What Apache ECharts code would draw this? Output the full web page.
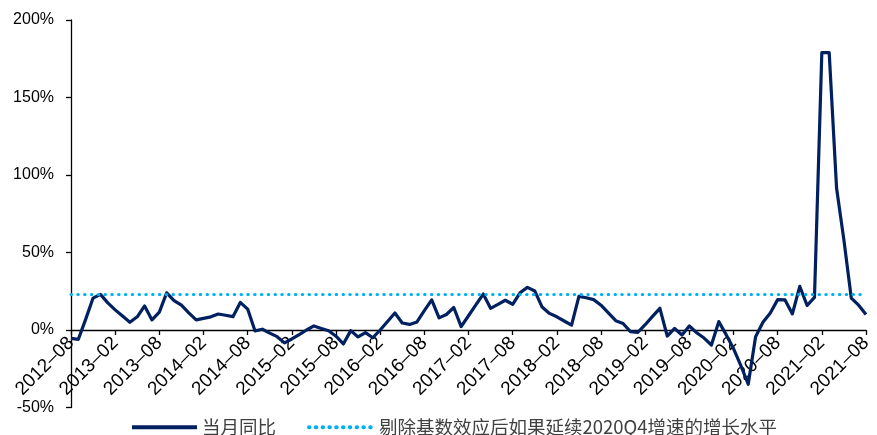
<!DOCTYPE html>
<html>
<head>
<meta charset="utf-8">
<script src="https://cdn.jsdelivr.net/npm/echarts@6/dist/echarts.min.js"></script>
<style>
  html, body { margin: 0; padding: 0; background: #fff; }
  #chart { width: 877px; height: 435px; }
</style>
</head>
<body>
<div id="chart"></div>
<script>
// Monthly categories, 2012-08 .. 2021-08
const months = [];
for (let y = 2012; y <= 2021; y++) {
  for (let m = 1; m <= 12; m++) {
    if ((y === 2012 && m < 8) || (y === 2021 && m > 8)) continue;
    months.push(y + '-' + String(m).padStart(2, '0'));
  }
}

// Year-on-year growth of the month (%)
const yoyMonthly = [
  -5.4, -6.0, 7.0, 20.6, 23.0, 17.5, 13.0, 9.0, 5.0, 8.5, 15.5, 6.5,
  11.5, 24.0, 19.0, 16.0, 11.0, 6.5, 7.5, 8.5, 10.3, 9.5, 8.6, 17.8,
  13.5, -0.6, 0.5, -2.0, -4.3, -8.3, -5.8, -3.0, 0.0, 2.6, 1.0, -0.5,
  -4.0, -9.0, -0.4, -4.5, -1.7, -5.0, 0.0, 5.5, 11.0, 4.5, 3.6, 5.2,
  12.5, 19.4, 7.8, 10.0, 14.5, 2.2, 9.2, 16.2, 23.2, 14.0, 16.5, 19.2,
  16.6, 24.0, 27.5, 25.2, 14.8, 10.7, 8.5, 5.8, 3.1, 21.7, 20.8, 19.6,
  16.0, 11.0, 6.0, 4.2, -1.0, -1.5, 3.4, 8.8, 14.0, -3.9, 1.0, -3.2,
  2.6, -1.8, -5.2, -9.7, 5.4, -3.0, -12.0, -23.0, -35.0, -4.3, 5.0, 11.0,
  19.6, 19.4, 10.4, 28.2, 15.8, 21.0, 179.0, 179.0, 91.6, 58.0, 20.6, 16.0,
  10.0
];

// Growth level if the 2020Q4 pace had continued, base effect removed (%)
const baselineLevel = 23.2;

const seriesNames = ['当月同比', '剔除基数效应后如果延续2020Q4增速的增长水平'];
const yTicks = { min: -50, max: 200, step: 50 };

const GRID = { left: 71, right: 11, top: 20, bottom: 27.5 };
const plotHeight = 435 - GRID.top - GRID.bottom;
// distance from the bottom of the plot up to the 0% line
const zeroLift = plotHeight * (0 - yTicks.min) / (yTicks.max - yTicks.min);

const chart = echarts.init(document.getElementById('chart'), null, { renderer: 'canvas' });

chart.setOption({
  animation: false,
  backgroundColor: '#ffffff',
  grid: Object.assign({ containLabel: false, outerBoundsMode: 'none' }, GRID),
  legend: {
    left: 125,
    top: 413,
    itemWidth: 65,
    itemHeight: 14,
    itemGap: 31,
    itemStyle: { opacity: 0 },
    lineStyle: { width: 4 },
    textStyle: { fontFamily: 'Noto Sans CJK SC', fontSize: 18.5, color: '#404040' },
    data: seriesNames
  },
  xAxis: {
    type: 'category',
    data: months,
    boundaryGap: false,
    position: 'bottom',
    offset: -zeroLift,
    axisLine: { onZero: false, lineStyle: { color: '#000', width: 1.3 } },
    axisTick: { show: true, interval: 5, length: 5, inside: false, lineStyle: { color: '#000', width: 1.3 } },
    axisLabel: {
      interval: 5,
      rotate: 45,
      margin: 10,
      fontFamily: 'Liberation Sans',
      fontSize: 19,
      color: '#000',
      formatter: v => v.replace('-', '–')
    },
    splitLine: { show: false }
  },
  yAxis: {
    type: 'value',
    min: yTicks.min,
    max: yTicks.max,
    interval: yTicks.step,
    axisLine: { show: true, lineStyle: { color: '#000', width: 1.3 } },
    axisTick: { show: true, length: 5, lineStyle: { color: '#000', width: 1.3 } },
    axisLabel: {
      margin: 17,
      fontFamily: 'Liberation Sans',
      fontSize: 16,
      color: '#000',
      formatter: '{value}%'
    },
    splitLine: { show: false }
  },
  series: [
    {
      name: seriesNames[0],
      type: 'line',
      data: yoyMonthly,
      symbol: 'none',
      smooth: false,
      z: 3,
      lineStyle: { color: '#002060', width: 3.2, join: 'round' },
      itemStyle: { color: '#002060' }
    },
    {
      name: seriesNames[1],
      type: 'line',
      data: [],
      symbol: 'none',
      z: 2,
      lineStyle: { color: '#00B0F0', width: 3, type: [0.5, 6.3], cap: 'round' },
      itemStyle: { color: '#00B0F0' },
      markLine: {
        silent: true,
        symbol: ['none', 'none'],
        label: { show: false },
        lineStyle: { color: '#00B0F0', width: 3, type: [0.5, 6.3], cap: 'round' },
        data: [{ yAxis: baselineLevel }]
      }
    }
  ]
});
</script>
</body>
</html>
